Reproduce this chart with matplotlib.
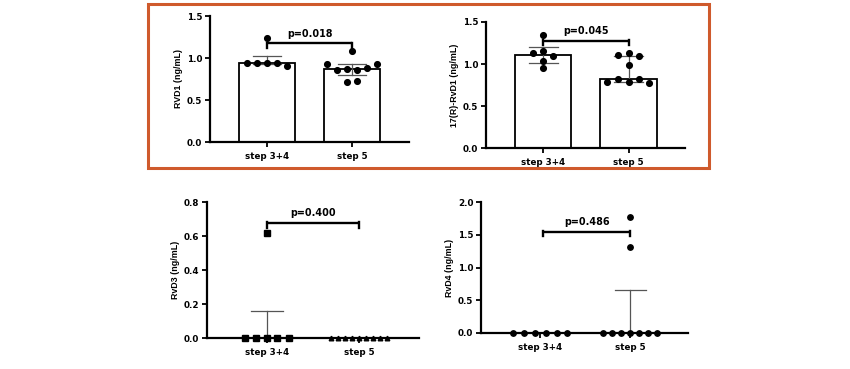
import matplotlib
matplotlib.use("Agg")
import matplotlib.pyplot as plt
from matplotlib.patches import Rectangle

# ---------------- data ----------------
categories = ["step 3+4", "step 5"]

# Panel 1: RVD1
rvd1_a_x = [0.0, -0.24, -0.12, 0.0, 0.12, 0.24]
rvd1_a_y = [1.24, 0.94, 0.94, 0.94, 0.94, 0.90]
rvd1_b_x = [-0.30, -0.18, -0.06, 0.0, 0.06, 0.18, 0.29, -0.06, 0.06]
rvd1_b_y = [0.93, 0.86, 0.87, 1.08, 0.86, 0.88, 0.93, 0.72, 0.73]
rvd1_bar = [0.94, 0.87]
rvd1_err_lo = [0.93, 0.80]
rvd1_err_hi = [1.025, 0.925]

# Panel 2: 17(R)-RvD1
r17_a_x = [0.0, -0.12, 0.0, 0.12, 0.0, 0.0]
r17_a_y = [1.345, 1.135, 1.155, 1.095, 1.04, 0.95]
r17_b_x = [-0.12, 0.0, 0.12, 0.0, -0.25, -0.12, 0.0, 0.12, 0.24]
r17_b_y = [1.107, 1.127, 1.095, 0.988, 0.786, 0.818, 0.786, 0.818, 0.777]
r17_bar = [1.109, 0.818]
r17_err_lo = [1.016, 0.786]
r17_err_hi = [1.206, 1.10]

# Panel 3: RvD3
rvd3_a_x = [-0.24, -0.12, 0.0, 0.11, 0.24, 0.0]
rvd3_a_y = [0.0, 0.0, 0.0, 0.0, 0.0, 0.618]
rvd3_b_x = [-0.30, -0.225, -0.15, -0.075, 0.0, 0.075, 0.15, 0.225, 0.30]
rvd3_b_y = [0.0] * 9
rvd3_err_hi = [0.157, 0.0]

# Panel 4: RvD4
rvd4_a_x = [-0.30, -0.18, -0.06, 0.06, 0.18, 0.30]
rvd4_a_y = [0.0] * 6
rvd4_b_x = [-0.30, -0.20, -0.10, 0.0, 0.10, 0.20, 0.30, 0.0, 0.0]
rvd4_b_y = [0.0, 0.0, 0.0, 0.0, 0.0, 0.0, 0.0, 1.31, 1.77]
rvd4_err_hi = [0.0, 0.658]

p_texts = ["p=0.018", "p=0.045", "p=0.400", "p=0.486"]
bracket_y = [1.175, 1.276, 0.676, 1.544]
bracket_drop = [0.06, 0.05, 0.03, 0.07]
ylabels = ["RVD1 (ng/mL)", "17(R)-RvD1 (ng/mL)", "RvD3 (ng/mL)", "RvD4 (ng/mL)"]
yticks = [[0.0, 0.5, 1.0, 1.5], [0.0, 0.5, 1.0, 1.5], [0.0, 0.2, 0.4, 0.6, 0.8],
          [0.0, 0.5, 1.0, 1.5, 2.0]]
ylims = [(0, 1.5), (0, 1.5), (0, 0.8), (0, 2.0)]

# ---------------- figure ----------------
W, H = 850, 369
fig = plt.figure(figsize=(W / 100, H / 100), dpi=100)
fig.patch.set_facecolor("white")

def frac(x0, x1, y_top_px, y_bot_px):
    return [x0 / W, (H - y_bot_px) / H, (x1 - x0) / W, (y_bot_px - y_top_px) / H]

positions = [
    frac(210, 409, 16, 142),
    frac(486, 685, 22, 148),
    frac(207, 419, 202, 338),
    frac(481, 688, 202, 333),
]
xlims = [(-0.67, 1.67), (-0.67, 1.66), (-0.65, 1.65), (-0.66, 1.64)]

tick_font = dict(family="DejaVu Sans", weight="bold", size=6.3)
ERR_C = "#555555"

axes = [fig.add_axes(p) for p in positions]

def style(ax, i):
    ax.set_xlim(*xlims[i])
    ax.set_ylim(*ylims[i])
    ax.set_xticks([0, 1])
    ax.set_xticklabels(categories, fontdict=tick_font)
    ax.set_yticks(yticks[i])
    ax.set_yticklabels([f"{v:.1f}" for v in yticks[i]], fontdict=tick_font)
    for s in ["top", "right"]:
        ax.spines[s].set_visible(False)
    for s in ["left", "bottom"]:
        ax.spines[s].set_linewidth(1.6)
    ax.tick_params(axis="y", width=1.3, length=3.5, pad=2)
    ax.tick_params(axis="x", width=1.3, length=3.5, pad=4)
    ax.set_ylabel(ylabels[i], family="Liberation Sans", weight="bold", size=6.4, labelpad=3)
    ax.patch.set_alpha(0)

def bracket(ax, i, x0=0.0, x1=1.0):
    y = bracket_y[i]
    d = bracket_drop[i]
    ax.plot([x0, x1], [y, y], color="black", lw=1.7, solid_capstyle="butt", zorder=5, clip_on=False)
    for xx in (x0, x1):
        ax.plot([xx, xx], [y + d * 0.15, y - d], color="black", lw=1.7, zorder=5, clip_on=False)
    ax.text((x0 + x1) / 2, y + (ylims[i][1] * 0.035), p_texts[i], ha="center", va="bottom",
            family="DejaVu Sans", size=6.9, weight="semibold", zorder=6)

def errbar(ax, x, lo, hi, cw=0.17):
    ax.plot([x, x], [lo, hi], color=ERR_C, lw=0.9, zorder=3)
    for yy in (lo, hi):
        ax.plot([x - cw, x + cw], [yy, yy], color=ERR_C, lw=0.9, zorder=3)

# Panel 1 & 2: bars
bar_sets = [
    (rvd1_bar, rvd1_err_lo, rvd1_err_hi, rvd1_a_x, rvd1_a_y, rvd1_b_x, rvd1_b_y),
    (r17_bar, r17_err_lo, r17_err_hi, r17_a_x, r17_a_y, r17_b_x, r17_b_y),
]
for i, (bars, lo, hi, ax_x, ax_y, bx_x, bx_y) in enumerate(bar_sets):
    ax = axes[i]
    ax.bar([0, 1], bars, width=0.66, color="white", edgecolor="black", linewidth=1.3, zorder=2)
    for k in range(2):
        errbar(ax, k, lo[k], hi[k])
    ax.plot(ax_x, ax_y, "o", color="black", ms=4.1, zorder=4, clip_on=False)
    ax.plot([1 + v for v in bx_x], bx_y, "o", color="black", ms=4.1, zorder=4, clip_on=False)
    style(ax, i)
    bracket(ax, i)

# Panel 3: RvD3
ax = axes[2]
ax.plot([0, 0], [0, rvd3_err_hi[0]], color=ERR_C, lw=0.9, zorder=3)
ax.plot([-0.17, 0.17], [rvd3_err_hi[0]] * 2, color=ERR_C, lw=0.9, zorder=3)
ax.plot(rvd3_a_x, rvd3_a_y, "s", color="black", ms=3.8, zorder=4, clip_on=False)
ax.plot([1 + v for v in rvd3_b_x], rvd3_b_y, "^", color="black", ms=3.3, zorder=4, clip_on=False)
style(ax, 2)
bracket(ax, 2)

# Panel 4: RvD4
ax = axes[3]
ax.plot([1, 1], [0, rvd4_err_hi[1]], color=ERR_C, lw=0.9, zorder=3)
ax.plot([1 - 0.17, 1 + 0.17], [rvd4_err_hi[1]] * 2, color=ERR_C, lw=0.9, zorder=3)
ax.plot(rvd4_a_x, rvd4_a_y, "o", color="black", ms=3.9, zorder=4, clip_on=False)
ax.plot([1 + v for v in rvd4_b_x], rvd4_b_y, "o", color="black", ms=3.9, zorder=4, clip_on=False)
style(ax, 3)
bracket(ax, 3, 0.03, 1.0)

# Orange highlight box
box = Rectangle((148 / W, (H - 168) / H), (709 - 148) / W, (168 - 4) / H,
                transform=fig.transFigure, fill=False, edgecolor="#CF5A2C", linewidth=2.2)
fig.add_artist(box)

fig.savefig("out.png", dpi=100, facecolor="white")
